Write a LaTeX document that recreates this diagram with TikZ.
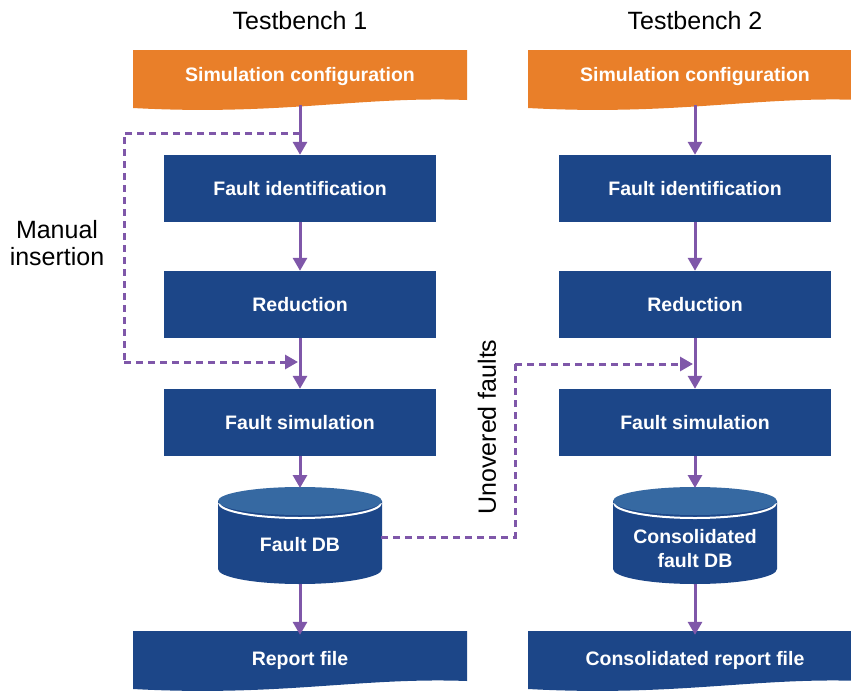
\documentclass[tikz,border=0pt]{standalone}
\usepackage{fontspec}
\setmainfont{Liberation Sans}
\usetikzlibrary{arrows.meta,calc}
\definecolor{cfgorange}{HTML}{E97F29}
\definecolor{boxblue}{HTML}{1C4688}
\definecolor{topblue}{HTML}{3669A2}
\definecolor{flowpurple}{HTML}{7F57A9}
\begin{document}
\begin{tikzpicture}[x=1pt,y=-1pt,
  boxlabel/.style={text=white,font=\bfseries\fontsize{19.5}{24}\selectfont,align=center},
  stepbox/.style={boxlabel,fill=boxblue,minimum width=272pt,minimum height=67pt,inner sep=0pt},
  doclabel/.style={boxlabel,minimum width=334pt,minimum height=50pt,inner sep=0pt},
  titletext/.style={font=\fontsize{25}{27}\selectfont},
  flow/.style={draw=flowpurple,line width=3pt,-{Triangle[length=13pt,width=14pt]}},
  dflow/.style={draw=flowpurple,line width=3pt,dash pattern=on 7pt off 5pt,-{Triangle[length=13pt,width=14pt]}},
  dline/.style={draw=flowpurple,line width=3pt,dash pattern=on 7pt off 5pt}]
\useasboundingbox (0,0) rectangle (851,691);

% document shapes
\foreach \cx/\ty/\col in {300/50/cfgorange,695/50/cfgorange,300/631/boxblue,695/631/boxblue}{
  \fill[\col] (\cx-167,\ty) -- (\cx+167,\ty) -- (\cx+167,\ty+50)
    .. controls (\cx+60,\ty+46) and (\cx-20,\ty+66) .. (\cx-167,\ty+58) -- cycle;
}

% cylinders
\foreach \cx/\cy in {300/501,695/501}{
  \fill[boxblue] (\cx-82,\cy) -- (\cx-82,\cy+68) arc[start angle=180,end angle=0,x radius=82,y radius=15] -- (\cx+82,\cy) -- cycle;
  \fill[boxblue] (\cx,\cy+2) ellipse[x radius=82,y radius=15];
  \draw[white,line width=2pt] (\cx-81,\cy+2) arc[start angle=180,end angle=0,x radius=81,y radius=15];
  \fill[topblue] (\cx,\cy) ellipse[x radius=82,y radius=14];
}

% titles
\node[titletext] (t1) at (300,21) {Testbench 1};
\node[titletext] (t2) at (695,21) {Testbench 2};

% column 1
\node[doclabel] (sc1) at (300,76) {Simulation configuration};
\node[stepbox] (fi1) at (300,188.5) {Fault identification};
\node[stepbox] (re1) at (300,304.5) {Reduction};
\node[stepbox] (fs1) at (300,422.5) {Fault simulation};
\node[boxlabel,minimum width=164pt,minimum height=66pt,inner sep=0pt] (db1) at (300,545) {Fault DB};
\node[doclabel] (rf1) at (300,660) {Report file};

% column 2
\node[doclabel] (sc2) at (695,76) {Simulation configuration};
\node[stepbox] (fi2) at (695,188.5) {Fault identification};
\node[stepbox] (re2) at (695,304.5) {Reduction};
\node[stepbox] (fs2) at (695,422.5) {Fault simulation};
\node[boxlabel,minimum width=164pt,minimum height=66pt,inner sep=0pt] (db2) at (695,549) {Consolidated\\fault DB};
\node[doclabel] (rf2) at (695,660) {Consolidated report file};

% side labels
\node[titletext,align=center] (mi) at (57,243) {Manual\\insertion};
\node[titletext,rotate=90] (uf) at (487,427) {Unovered faults};

% solid arrows
\draw[flow] (300,105) -- (fi1.north);
\draw[flow] (fi1.south) -- (re1.north);
\draw[flow] (re1.south) -- (fs1.north);
\draw[flow] (fs1.south) -- (300,488);
\draw[flow] (300,584) -- (rf1.north);
\draw[flow] (695,105) -- (fi2.north);
\draw[flow] (fi2.south) -- (re2.north);
\draw[flow] (re2.south) -- (fs2.north);
\draw[flow] (fs2.south) -- (695,488);
\draw[flow] (695,584) -- (rf2.north);

% dashed connectors
\coordinate (m1) at (300,133);
\coordinate (m2) at (124,133);
\coordinate (m3) at (124,362);
\coordinate (m4) at (298,362);
\draw[dline] (m1) -- (m2) -- (m3);
\draw[dflow] (m3) -- (m4);
\coordinate (u1) at (515,537);
\coordinate (u2) at (515,364);
\coordinate (u3) at (693,364);
\draw[dline] (381,537) -- (u1) -- (u2);
\draw[dflow] (u2) -- (u3);
\end{tikzpicture}
\end{document}
